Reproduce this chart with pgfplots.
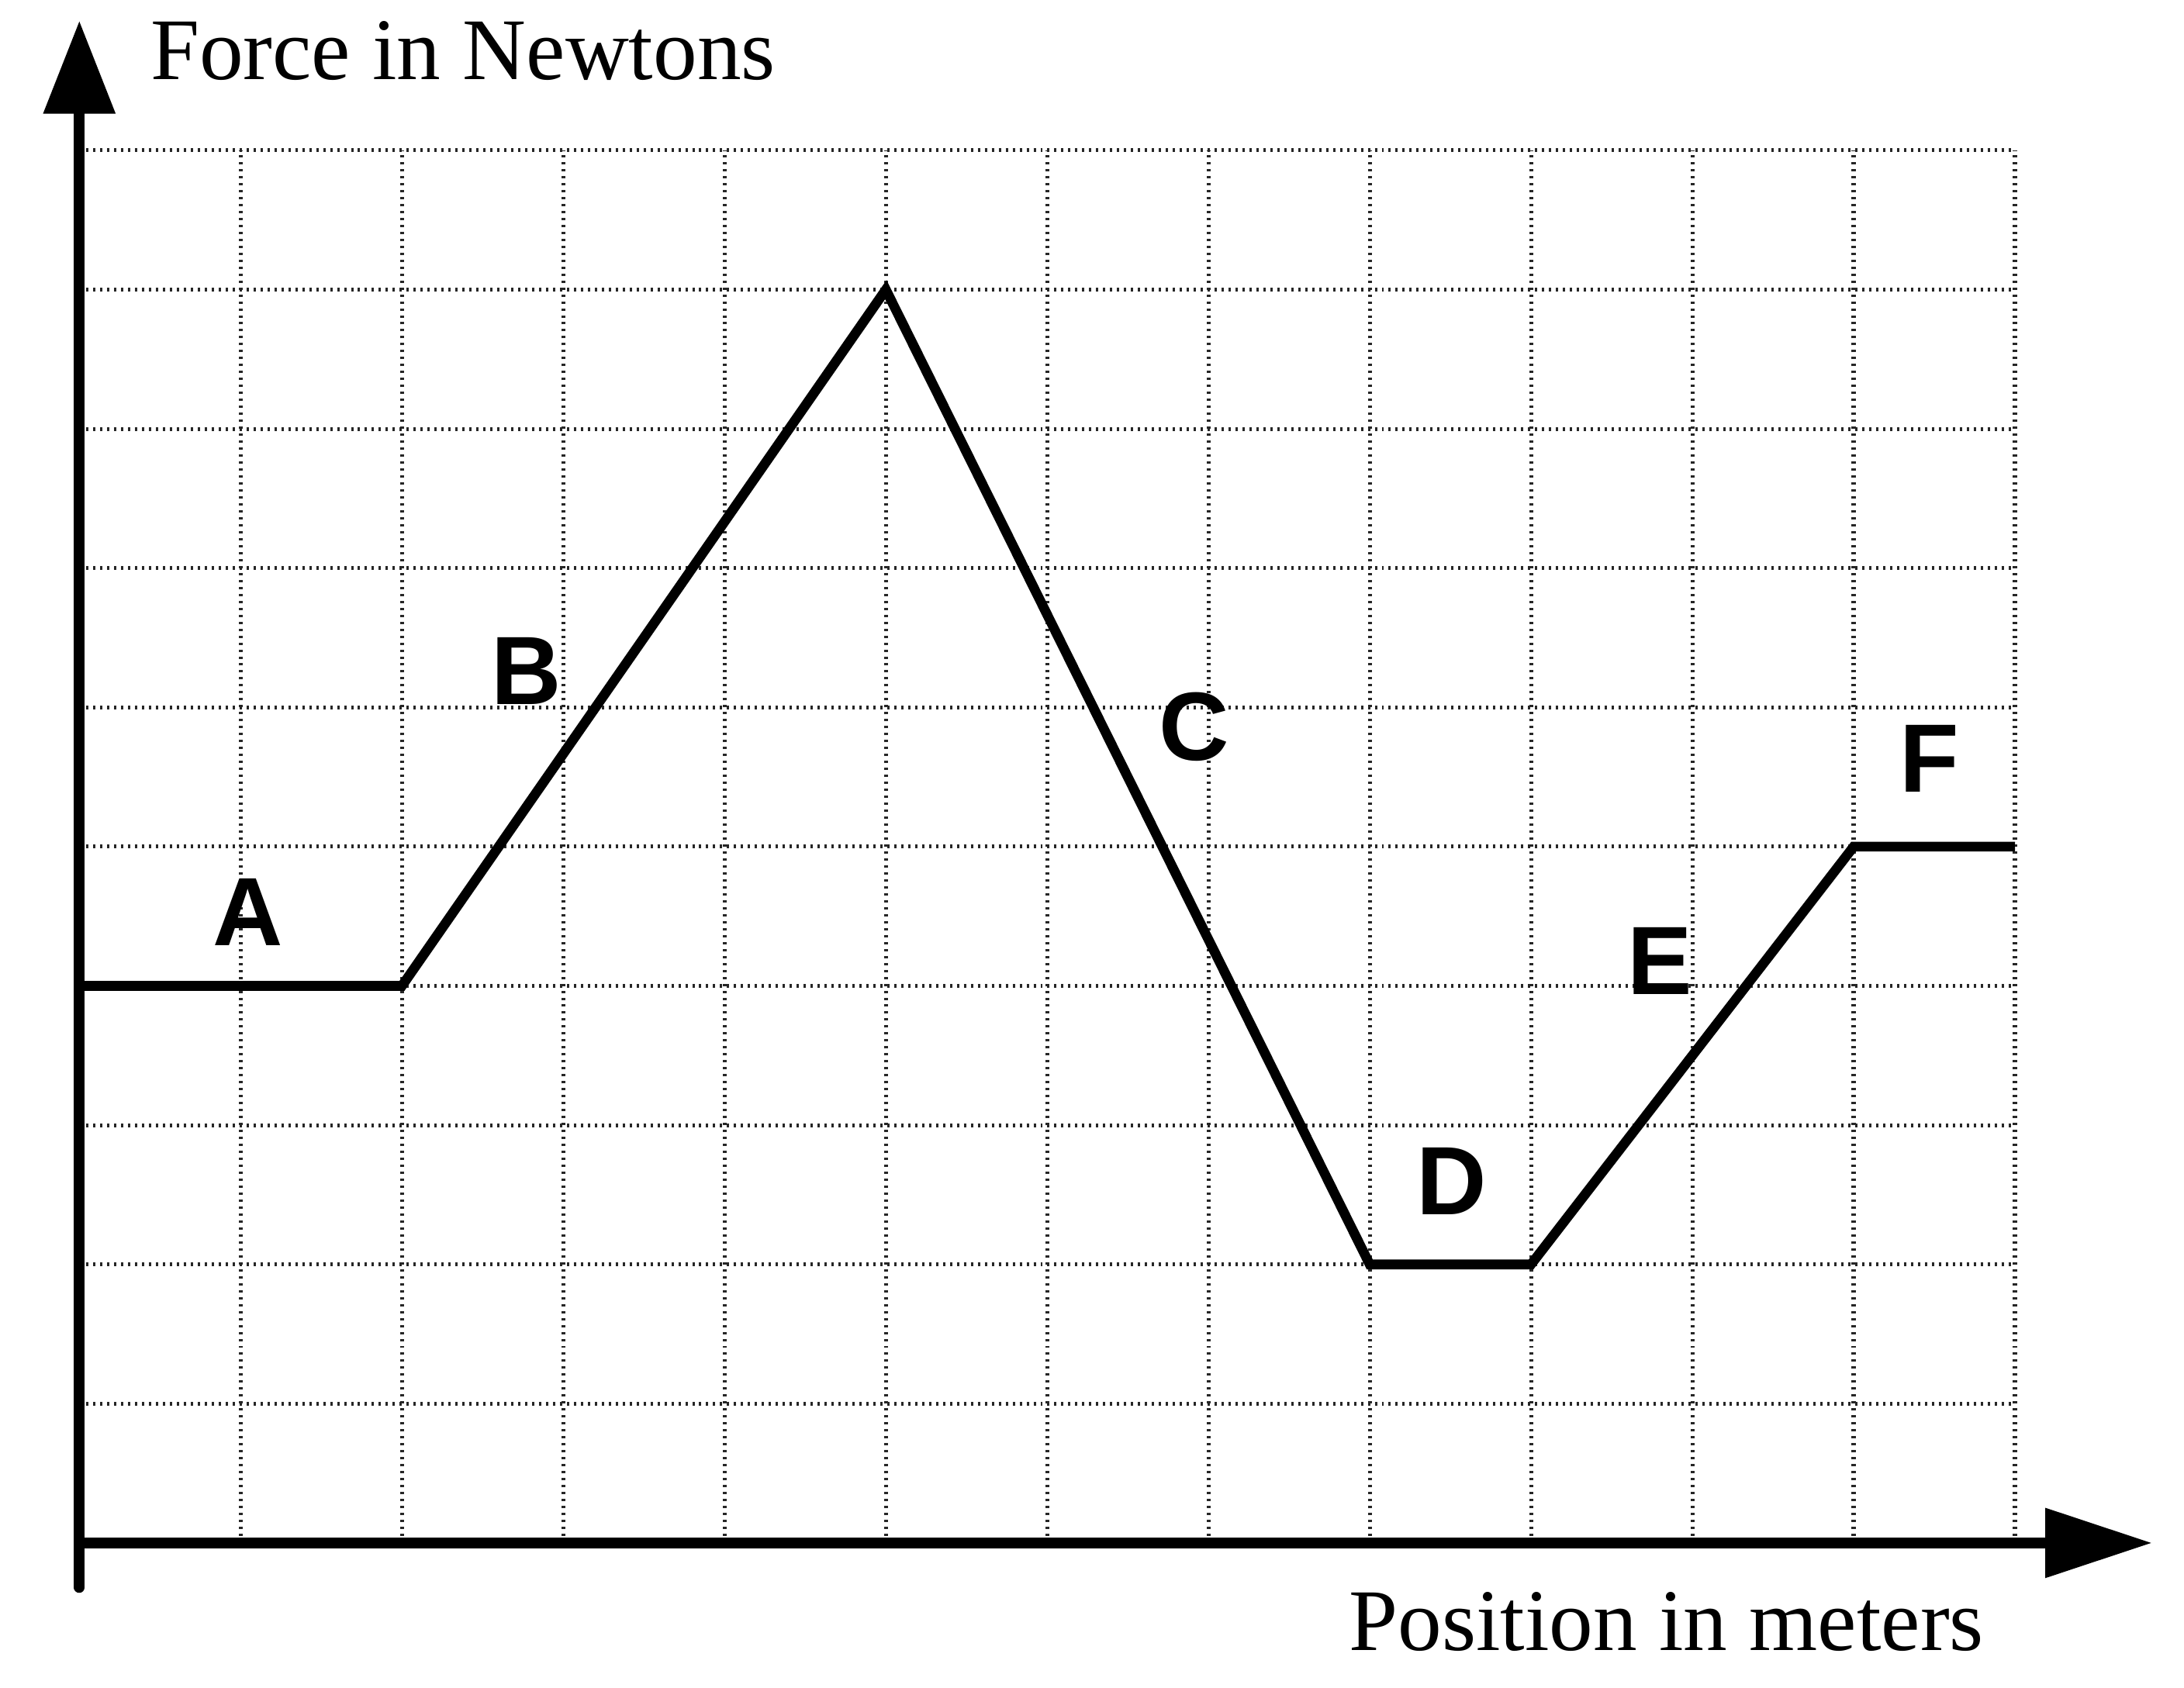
\documentclass[border=0pt]{standalone}
\usepackage{fontspec}
\setmainfont{Liberation Serif}
\newfontfamily\labelfont{Liberation Sans}
\usepackage{pgfplots}
\pgfplotsset{compat=1.18}
\usetikzlibrary{arrows.meta}
\begin{document}
\begin{tikzpicture}
\path[use as bounding box] (-17.09bp,-31.2bp) rectangle (453.3bp,332.4bp);
\begin{axis}[
  at={(0,0)}, anchor=origin,
  x=34.74bp, y=30bp,
  xmin=0, xmax=12, ymin=0, ymax=10,
  axis lines=left,
  axis line style={draw=none},
  xtick={0,...,12}, ytick={0,...,10},
  xticklabels={}, yticklabels={},
  tick style={draw=none},
  grid=major,
  major grid style={black!85, line width=0.85bp, dash pattern=on 0.5bp off 1.0bp},
  clip=false,
  xlabel={Position in meters},
  ylabel={Force in Newtons},
  every axis x label/.style={at={(axis cs:7.77,-0.77)}, anchor=base west, font=\fontsize{19}{22}\selectfont},
  every axis y label/.style={at={(axis cs:0.34,10.51)}, anchor=base west, font=\fontsize{19}{22}\selectfont},
]
\addplot[black, line width=2.1bp, line join=miter] coordinates {
  (0,4) (2,4) (5,9) (8,2) (9,2) (11,5) (12,5)
};
\draw[black, line width=2.3bp, line cap=round, -{Triangle[length=20bp,width=15bp]}] (axis cs:0,-0.32) -- (axis cs:0,10.93);
\draw[black, line width=2.3bp, -{Triangle[length=23bp,width=14.5bp]}] (axis cs:0,0) -- (axis cs:12.85,0);
\begin{scope}[every node/.style={font=\labelfont\bfseries\fontsize{21}{24}\selectfont}]
\node at (axis cs:1.045,4.53) {A};
\node at (axis cs:2.77,6.26) {B};
\node at (axis cs:6.91,5.86) {C};
\node at (axis cs:8.51,2.60) {D};
\node at (axis cs:9.80,4.18) {E};
\node at (axis cs:11.47,5.63) {F};
\end{scope}
\end{axis}
\end{tikzpicture}
\end{document}
